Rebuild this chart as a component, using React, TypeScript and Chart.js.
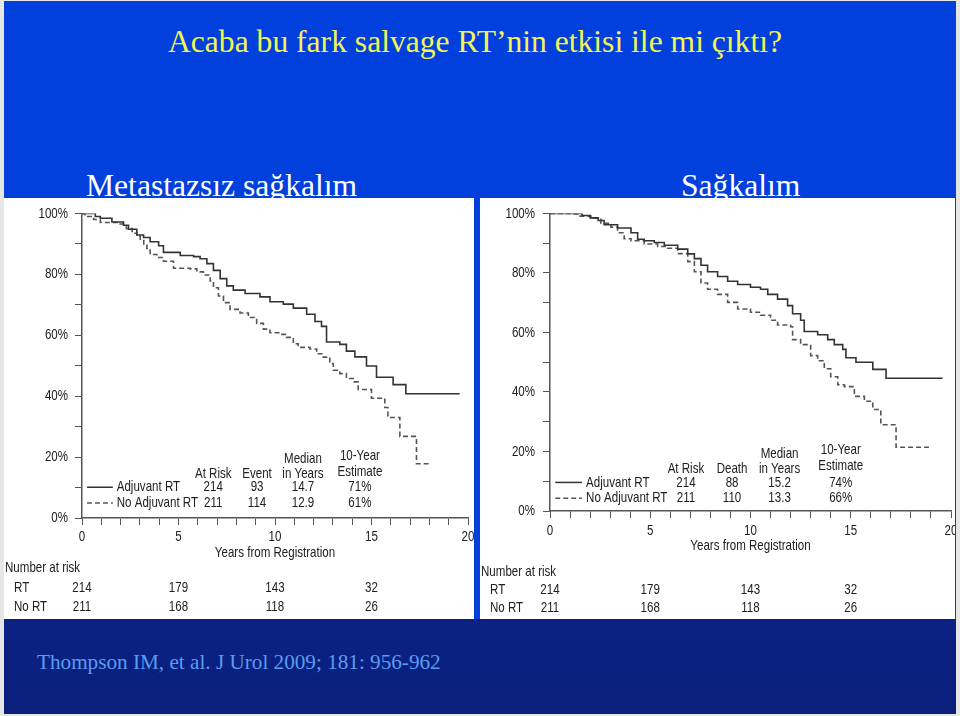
import React, { useEffect, useRef } from "react";
import { Chart, registerables } from "chart.js";

Chart.register(...registerables);

// ---------- DATA ----------
// Metastasis-free survival (left panel)
const mfsAdjTimes = [0, 0.69, 0.95, 1.55, 2.15, 2.41, 2.84, 3.19, 3.53, 3.97, 4.22, 5.09, 5.78, 6.12, 6.47, 6.81, 7.16, 7.5, 7.84, 8.45, 9.22, 9.74, 10.43, 10.95, 11.64, 12.07, 12.41, 12.67, 13.36, 13.7, 14.14, 14.74, 15.26, 16.12, 16.78, 19.57];
const mfsAdjSurv = [100, 99, 98.4, 97.2, 96.1, 94.8, 92.9, 92.1, 90.7, 89.4, 87.2, 86.2, 85.8, 85.1, 83.5, 81.3, 78.6, 76.2, 74.8, 73.7, 72.6, 71, 70.2, 68.9, 66.9, 64.5, 62.9, 57.8, 57, 54.8, 52.9, 49.9, 46.2, 43.8, 40.8, 40.8];
const mfsNoTimes = [0, 0.15, 0.6, 0.95, 1.9, 2.3, 2.6, 2.85, 3.02, 3.2, 3.36, 3.53, 3.88, 4.22, 4.74, 5.6, 5.95, 6.29, 6.64, 6.81, 7.07, 7.33, 7.67, 8.19, 8.62, 9.05, 9.4, 9.74, 10.26, 10.6, 10.95, 11.2, 11.81, 12.16, 12.5, 12.84, 13.02, 13.36, 13.7, 14.05, 14.31, 15.0, 15.69, 15.85, 16.47, 17.33, 18.1];
const mfsNoSurv = [100, 99, 98, 97, 96.5, 95, 93.5, 92.5, 91.5, 90, 88.5, 86.5, 85.5, 84.3, 82, 81.8, 80.8, 79.8, 77.8, 75.6, 72.9, 70.7, 68.5, 67.3, 65.8, 63.9, 62, 60.8, 60.3, 59.3, 57.2, 56, 55.5, 53.9, 52.8, 50.7, 48.5, 47.4, 45.8, 44.7, 42.2, 39.3, 36.3, 33, 26.8, 17.8, 17.8];

// Overall survival (right panel)
const osAdjTimes = [0, 1.6, 2.0, 2.4, 2.7, 3.37, 4.04, 4.37, 4.7, 5.2, 5.7, 6.37, 6.87, 7.2, 7.53, 7.86, 8.36, 8.86, 9.36, 10.0, 10.5, 10.86, 11.35, 11.85, 12.1, 12.5, 12.68, 13.35, 13.85, 14.18, 14.6, 14.76, 15.26, 16.1, 16.76, 19.58];
const osAdjSurv = [100, 99.3, 98.5, 97.6, 96.2, 95.1, 93.5, 91.3, 90.8, 90.2, 89.3, 88.0, 86.4, 84.8, 82.6, 80.4, 78.8, 77.2, 76.1, 75.2, 74.5, 72.8, 71.2, 69.0, 66.3, 64.1, 60.3, 59.2, 57.6, 55.9, 54.3, 51.5, 50.0, 47.6, 44.6, 44.6];
const osNoTimes = [0, 1.05, 1.38, 2.04, 2.54, 3.04, 3.37, 3.7, 4.04, 4.7, 5.37, 5.87, 6.37, 6.87, 7.2, 7.53, 7.86, 8.36, 8.86, 9.36, 10.0, 10.5, 11.0, 11.35, 12.0, 12.1, 12.5, 13.0, 13.35, 13.68, 14.0, 14.35, 14.68, 15.18, 15.68, 16.1, 16.5, 17.26, 18.9];
const osNoSurv = [100, 99.8, 99.1, 98.4, 96.7, 95.4, 93.5, 91.5, 90.8, 89.7, 88.9, 88.3, 86.5, 83.8, 80.4, 76.6, 74.5, 72.8, 70.1, 67.9, 66.8, 65.8, 64.1, 62.5, 61.9, 57.6, 55.9, 52.2, 50.5, 47.8, 45.1, 42.4, 41.8, 38.5, 36.9, 34.1, 29.0, 21.4, 21.4];

// Table / labels
const seriesNames = ["Adjuvant RT", "No Adjuvant RT"];
const xAxisTitle = "Years from Registration";
const xLabelValues = [0, 5, 10, 15, 20];
const yLabelValues = [0, 20, 40, 60, 80, 100];
const riskTitle = "Number at risk";
const riskTimes = [0, 5, 10, 15];
const riskRT = ["214", "179", "143", "32"];
const riskNoRT = ["211", "168", "118", "26"];
const riskRowNames = ["RT", "No RT"];
const mfsHeadTop = ["", "", "Median", "10-Year"];
const mfsHeadBottom = ["At Risk", "Event", "in Years", "Estimate"];
const mfsRow1 = ["214", "93", "14.7", "71%"];
const mfsRow2 = ["211", "114", "12.9", "61%"];
const osHeadTop = ["", "", "Median", "10-Year"];
const osHeadBottom = ["At Risk", "Death", "in Years", "Estimate"];
const osRow1 = ["214", "88", "15.2", "74%"];
const osRow2 = ["211", "110", "13.3", "66%"];

// ---------- STYLE ----------
const SANS = '"Liberation Sans", Arial, "Helvetica", sans-serif';
const SERIF = '"Liberation Serif", "Times New Roman", serif';
const TXT = "#202020";
const AXIS = "#555555";
const NARROW_SCALE = 0.77;
const TEXT_SIZE = 15;

type PanelCfg = {
  adjT: number[]; adjS: number[]; noT: number[]; noS: number[];
  headTop: string[]; headBottom: string[]; row1: string[]; row2: string[];
  canvasW: number; canvasH: number;
  padRight: number; padTop: number; padBottom: number;
  yAxisW: number; xAxisH: number;
  colX: number[]; rowY: number[]; estOffset: number;
  riskOff: number[]; xLabelOff: number; xTitleOff: number; yLabelGap: number;
};

const leftCfg: PanelCfg = {
  adjT: mfsAdjTimes, adjS: mfsAdjSurv, noT: mfsNoTimes, noS: mfsNoSurv,
  headTop: mfsHeadTop, headBottom: mfsHeadBottom, row1: mfsRow1, row2: mfsRow2,
  canvasW: 480, canvasH: 421, padRight: 16, padTop: 12, padBottom: 57.6,
  yAxisW: 78, xAxisH: 43.4,
  colX: [6.8, 9.07, 11.45, 14.4], rowY: [19.5, 14.6, 10.1, 4.9], estOffset: 1.0,
  riskOff: [50, 70, 89], xLabelOff: 19, xTitleOff: 35, yLabelGap: 14,
};
const rightCfg: PanelCfg = {
  adjT: osAdjTimes, adjS: osAdjSurv, noT: osNoTimes, noS: osNoSurv,
  headTop: osHeadTop, headBottom: osHeadBottom, row1: osRow1, row2: osRow2,
  canvasW: 485, canvasH: 421, padRight: 14, padTop: 12, padBottom: 64.6,
  yAxisW: 70, xAxisH: 43.4,
  colX: [6.78, 9.08, 11.45, 14.5], rowY: [19.3, 14.3, 9.6, 4.3], estOffset: 1.3,
  riskOff: [61, 79, 97], xLabelOff: 20, xTitleOff: 35, yLabelGap: 15,
};

function ntext(ctx: CanvasRenderingContext2D, s: string, x: number, y: number, align: CanvasTextAlign) {
  ctx.save();
  ctx.translate(x, y);
  ctx.scale(NARROW_SCALE, 1);
  ctx.textAlign = align;
  ctx.fillText(s, 0, 0);
  ctx.restore();
}

function KMChart({ cfg }: { cfg: PanelCfg }) {
  const ref = useRef<HTMLCanvasElement | null>(null);
  useEffect(() => {
    if (!ref.current) return;
    const hiddenFont = { family: SANS, size: 14 };
    const textPlugin = {
      id: "kmText",
      afterDraw(chart: any) {
        const ctx = chart.ctx as CanvasRenderingContext2D;
        const xs = chart.scales.x;
        const ys = chart.scales.y;
        const area = chart.chartArea;
        ctx.save();
        ctx.font = `${TEXT_SIZE}px ${SANS}`;
        ctx.fillStyle = TXT;
        ctx.textBaseline = "middle";
        // axis labels
        xLabelValues.forEach((v) => ntext(ctx, String(v), xs.getPixelForValue(v), area.bottom + cfg.xLabelOff, "center"));
        yLabelValues.forEach((v) => ntext(ctx, `${v}%`, area.left - cfg.yLabelGap, ys.getPixelForValue(v), "right"));
        ntext(ctx, xAxisTitle, (area.left + area.right) / 2, area.bottom + cfg.xTitleOff, "center");
        // table
        cfg.colX.forEach((cx, i) => {
          const off = i === 3 ? cfg.estOffset : 0;
          const px = xs.getPixelForValue(cx);
          if (cfg.headTop[i]) ntext(ctx, cfg.headTop[i], px, ys.getPixelForValue(cfg.rowY[0] + off), "center");
          ntext(ctx, cfg.headBottom[i], px, ys.getPixelForValue(cfg.rowY[1] + off * 0.7), "center");
          ntext(ctx, cfg.row1[i], px, ys.getPixelForValue(cfg.rowY[2]), "center");
          ntext(ctx, cfg.row2[i], px, ys.getPixelForValue(cfg.rowY[3]), "center");
        });
        // legend samples
        [cfg.rowY[2], cfg.rowY[3]].forEach((ry, i) => {
          const py = ys.getPixelForValue(ry);
          ctx.beginPath();
          ctx.strokeStyle = i === 0 ? "#333" : "#555";
          ctx.lineWidth = 1.5;
          ctx.setLineDash(i === 0 ? [] : [5, 3]);
          ctx.moveTo(xs.getPixelForValue(0.26), py);
          ctx.lineTo(xs.getPixelForValue(1.6), py);
          ctx.stroke();
          ctx.setLineDash([]);
          ntext(ctx, seriesNames[i], xs.getPixelForValue(1.8), py, "left");
        });
        // number at risk
        const b = area.bottom;
        ntext(ctx, riskTitle, 1, b + cfg.riskOff[0], "left");
        ntext(ctx, riskRowNames[0], 10, b + cfg.riskOff[1], "left");
        ntext(ctx, riskRowNames[1], 10, b + cfg.riskOff[2], "left");
        riskTimes.forEach((t, i) => {
          const px = xs.getPixelForValue(t);
          ntext(ctx, riskRT[i], px, b + cfg.riskOff[1], "center");
          ntext(ctx, riskNoRT[i], px, b + cfg.riskOff[2], "center");
        });
        ctx.restore();
      },
    };
    const chart = new Chart(ref.current, {
      type: "line",
      data: {
        datasets: [
          {
            label: seriesNames[0],
            data: cfg.adjT.map((t, i) => ({ x: t, y: cfg.adjS[i] })),
            stepped: true,
            borderColor: "#333333",
            borderWidth: 1.6,
            pointRadius: 0,
            fill: false,
          },
          {
            label: seriesNames[1],
            data: cfg.noT.map((t, i) => ({ x: t, y: cfg.noS[i] })),
            stepped: true,
            borderColor: "#555555",
            borderWidth: 1.6,
            borderDash: [5, 3],
            pointRadius: 0,
            fill: false,
          },
        ],
      },
      options: {
        responsive: false,
        maintainAspectRatio: false,
        animation: false,
        devicePixelRatio: 1,
        layout: { padding: { left: 0, right: cfg.padRight, top: cfg.padTop, bottom: cfg.padBottom } },
        plugins: { legend: { display: false }, tooltip: { enabled: false }, title: { display: false } },
        scales: {
          x: {
            type: "linear",
            min: 0,
            max: 20,
            afterFit: (s: any) => { s.height = cfg.xAxisH; },
            ticks: {
              stepSize: 1,
              autoSkip: false,
              maxRotation: 0,
              font: hiddenFont,
              color: "rgba(0,0,0,0)",
              padding: 5,
              callback: (v: any) => (Number(v) % 5 === 0 ? String(v) : ""),
            },
            grid: { display: true, drawOnChartArea: false, drawTicks: true, tickLength: 7, color: AXIS, lineWidth: 1 },
            border: { display: true, color: AXIS, width: 1.5 },
            title: { display: false },
          },
          y: {
            min: 0,
            max: 100,
            afterFit: (s: any) => { s.width = cfg.yAxisW; },
            ticks: {
              stepSize: 10,
              autoSkip: false,
              font: hiddenFont,
              color: "rgba(0,0,0,0)",
              padding: 7,
              callback: (v: any) => (Number(v) % 20 === 0 ? `${v}%` : ""),
            },
            grid: { display: true, drawOnChartArea: false, drawTicks: true, tickLength: 7, color: AXIS, lineWidth: 1 },
            border: { display: true, color: AXIS, width: 1.5 },
          },
        },
      } as any,
      plugins: [textPlugin],
    });
    return () => chart.destroy();
  }, [cfg]);
  return (
    <canvas
      ref={ref}
      width={cfg.canvasW}
      height={cfg.canvasH}
      style={{ width: cfg.canvasW, height: cfg.canvasH, display: "block" }}
    />
  );
}

export default function App() {
  return (
    <div style={{ position: "fixed", left: 0, top: 0, width: 960, height: 716, background: "#e6e6e6", overflow: "hidden" }}>
      <div style={{ position: "absolute", left: 4, top: 1, width: 952, height: 618, background: "#0240de" }} />
      <div style={{ position: "absolute", left: 4, top: 619, width: 952, height: 95, background: "linear-gradient(#0b2284, #0a1f7c)" }} />
      <div style={{ position: "absolute", left: 168, top: 26, fontFamily: SERIF, fontSize: 31.6, lineHeight: "31.6px", color: "#f4f455", whiteSpace: "nowrap" }}>
        Acaba bu fark salvage RT’nin etkisi ile mi çıktı?
      </div>
      <div style={{ position: "absolute", left: 86, top: 170, fontFamily: SERIF, fontSize: 31.6, lineHeight: "31.6px", color: "#ffffff", whiteSpace: "nowrap" }}>
        Metastazsız sağkalım
      </div>
      <div style={{ position: "absolute", left: 681, top: 170, fontFamily: SERIF, fontSize: 31.6, lineHeight: "31.6px", color: "#ffffff", whiteSpace: "nowrap" }}>
        Sağkalım
      </div>
      <div style={{ position: "absolute", left: 4, top: 198, width: 470, height: 421, background: "#ffffff", overflow: "hidden" }}>
        <KMChart cfg={leftCfg} />
      </div>
      <div style={{ position: "absolute", left: 480, top: 198, width: 475, height: 421, background: "#ffffff", overflow: "hidden" }}>
        <KMChart cfg={rightCfg} />
      </div>
      <div style={{ position: "absolute", left: 37, top: 652, fontFamily: SERIF, fontSize: 21.2, lineHeight: "21.2px", color: "#5a9cf2", whiteSpace: "nowrap" }}>
        Thompson IM, et al. J Urol 2009; 181: 956-962
      </div>
    </div>
  );
}
